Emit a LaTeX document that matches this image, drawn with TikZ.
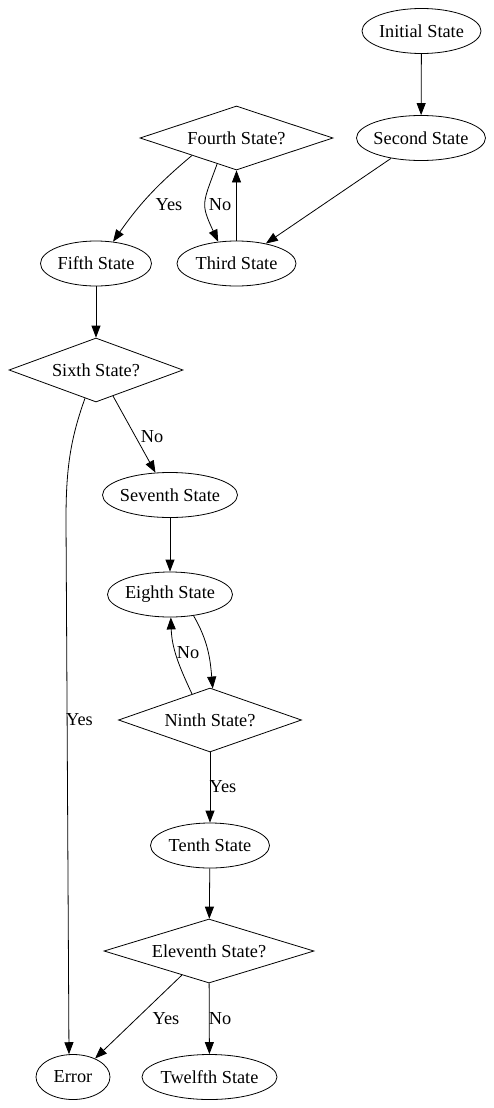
\documentclass[tikz,border=0pt]{standalone}
\usepackage{fontspec}
\setmainfont{Liberation Serif}
\usetikzlibrary{shapes.geometric,arrows.meta,calc}
\newcommand{\zb}[1]{\makebox[0pt][c]{#1}}
\begin{document}
\begin{tikzpicture}[x=1pt,y=1pt,
  every node/.style={font=\fontsize{18.3}{22}\selectfont},
  st/.style={ellipse,draw,line width=0.8pt,inner sep=0pt,minimum height=45pt},
  dec/.style={diamond,draw,line width=0.8pt,inner sep=0pt,minimum height=64pt},
  conn/.style={draw,line width=0.8pt,-{Triangle[length=12pt,width=9pt]}},
  lbl/.style={inner sep=0pt}]
\useasboundingbox (0,0) rectangle (494,-1108);
% nodes
\node[st,minimum width=119pt] (initial) at (421.5,-31) {\zb{Initial State}};
\node[st,minimum width=129pt] (second) at (421,-138) {\zb{Second State}};
\node[dec,minimum width=193pt] (fourth) at (236.5,-138) {\zb{Fourth State?}};
\node[st,minimum width=119pt] (third) at (236.5,-263.5) {\zb{Third State}};
\node[st,minimum width=111pt] (fifth) at (96,-263.5) {\zb{Fifth State}};
\node[dec,minimum width=174pt] (sixth) at (96,-370) {\zb{Sixth State?}};
\node[st,minimum width=135pt] (seventh) at (170,-495) {\zb{Seventh State}};
\node[st,minimum width=125pt] (eighth) at (170,-594.5) {\zb{Eighth State}};
\node[dec,minimum width=183pt] (ninth) at (210,-720) {\zb{Ninth State?}};
\node[st,minimum width=119pt] (tenth) at (210,-845.5) {\zb{Tenth State}};
\node[dec,minimum width=210pt] (eleventh) at (209,-951) {\zb{Eleventh State?}};
\node[st,minimum width=74pt] (error) at (73,-1077) {\zb{Error}};
\node[st,minimum width=135pt] (twelfth) at (209.5,-1077) {\zb{Twelfth State}};
\coordinate (bend1) at (66,-520);
% edges
\draw[conn] (initial) -- (second);
\draw[conn] (second) -- (third);
\draw[conn] (third) -- (fourth);
\draw[conn] ($(fourth.south)!0.2!(fourth.west)$) to[out=-110,in=115,looseness=1.4] (third.130);
\draw[conn] ($(fourth.south)!0.46!(fourth.west)$) to[out=-140,in=55] (fifth.52);
\draw[conn] (fifth) -- (sixth);
\draw[conn] ($(sixth.south)!0.195!(sixth.east)$) -- (seventh.123);
\draw[conn] ($(sixth.south)!0.126!(sixth.west)$) .. controls (70,-440) and (66,-470) .. (bend1) -- (error.100);
\draw[conn] (seventh) -- (eighth);
\draw[conn] (eighth.-42) to[out=-60,in=95] ($(ninth.north)!0.03!(ninth.east)$);
\draw[conn] ($(ninth.north)!0.196!(ninth.west)$) to[out=115,in=-88] (eighth.-88);
\draw[conn] (ninth) -- (tenth);
\draw[conn] (tenth) -- (eleventh);
\draw[conn] (eleventh) -- (twelfth);
\draw[conn] ($(eleventh.south)!0.257!(eleventh.west)$) -- (error.40);
% labels
\node[lbl] (l1) at (169,-205) {Yes};
\node[lbl] (l2) at (220,-205) {No};
\node[lbl] (l3) at (152,-437) {No};
\node[lbl] (l4) at (79.5,-720) {Yes};
\node[lbl] (l5) at (188,-653) {No};
\node[lbl] (l6) at (223,-787) {Yes};
\node[lbl] (l7) at (166,-1019) {Yes};
\node[lbl] (l8) at (220,-1019) {No};
\end{tikzpicture}
\end{document}
